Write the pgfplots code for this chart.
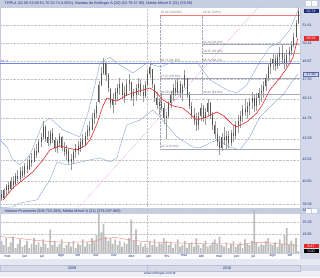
\documentclass[border=0pt]{standalone}
\usepackage{pgfplots}
\pgfplotsset{compat=1.18}
\usepackage{pgfplotstable}
\usetikzlibrary{backgrounds}
\usepackage{fontspec}
\setmainfont{Liberation Sans}
\definecolor{navy}{HTML}{1F2F7A}
\definecolor{titlebg}{HTML}{C6CEE2}
\definecolor{stripbg}{HTML}{D3D9EA}
\definecolor{monthbg}{HTML}{E6E9F2}
\definecolor{yearbg}{HTML}{D6DBE9}
\definecolor{footbg}{HTML}{EEF0F6}
\definecolor{wick}{HTML}{9A9A9A}
\definecolor{body}{HTML}{555555}
\definecolor{ema}{HTML}{E42A2A}
\definecolor{band}{HTML}{8EA2D2}
\definecolor{fib}{HTML}{A4A8B8}
\definecolor{fibred}{HTML}{F07878}
\definecolor{trend}{HTML}{E27FE2}
\definecolor{vol}{HTML}{BDBDBD}
\definecolor{volma}{HTML}{F08C8C}

% each bar: row 1 = (low, open), row 2 = (high, close), row 3 = break
\pgfplotstableread{
d w b
-6 39.45 39.90
-6 40.10 39.60
-6 nan nan
-2 39.60 39.65
-2 40.25 40.10
-2 nan nan
2 39.80 40.10
2 40.50 40.35
2 nan nan
6 39.95 40.40
6 40.60 40.10
6 nan nan
10 40.15 40.20
10 40.90 40.70
10 nan nan
14 40.20 40.70
14 41.00 40.40
14 nan nan
18 40.40 40.50
18 41.20 41.00
18 nan nan
22 40.55 41.00
22 41.35 40.80
22 nan nan
26 40.70 40.80
26 41.55 41.30
26 nan nan
30 40.85 41.30
30 41.65 41.00
30 nan nan
34 40.95 41.10
34 41.80 41.60
34 nan nan
38 41.15 41.60
38 42.05 41.40
38 nan nan
42 41.35 41.40
42 42.25 42.00
42 nan nan
46 41.55 42.00
46 42.45 41.80
46 nan nan
50 41.90 41.90
50 42.80 42.60
50 nan nan
54 42.15 42.60
54 43.05 42.30
54 nan nan
58 42.45 42.50
58 43.40 43.20
58 nan nan
62 42.85 43.20
62 43.80 43.50
62 nan nan
66 43.40 43.50
66 44.60 44.20
66 nan nan
70 43.20 44.20
70 44.30 43.40
70 nan nan
74 42.90 43.50
74 43.90 43.10
74 nan nan
78 43.00 43.10
78 44.00 43.80
78 nan nan
82 43.10 43.80
82 44.10 43.30
82 nan nan
86 42.55 43.30
86 43.50 42.80
86 nan nan
90 42.45 42.80
90 43.40 43.20
90 nan nan
94 42.85 43.10
94 43.80 43.60
94 nan nan
98 42.60 43.50
98 43.55 42.80
98 nan nan
102 42.25 42.80
102 43.15 42.50
102 nan nan
106 42.00 42.40
106 42.95 42.70
106 nan nan
110 41.75 42.60
110 42.70 41.90
110 nan nan
114 41.35 41.90
114 42.40 42.10
114 nan nan
118 41.75 42.00
118 42.70 42.50
118 nan nan
122 42.15 42.50
122 43.05 42.80
122 nan nan
126 42.35 42.90
126 43.25 42.60
126 nan nan
130 42.55 42.70
130 43.45 43.20
130 nan nan
134 42.75 43.30
134 43.70 43.00
134 nan nan
138 42.90 43.00
138 43.85 43.60
138 nan nan
142 43.30 43.60
142 44.30 44.00
142 nan nan
146 43.60 44.20
146 44.60 43.90
146 nan nan
150 44.10 44.00
150 45.10 44.80
150 nan nan
154 44.40 44.80
154 45.40 45.10
154 nan nan
158 44.80 45.10
158 45.90 45.60
158 nan nan
162 45.80 45.90
162 47.40 47.10
162 nan nan
166 47.00 47.10
166 48.40 48.00
166 nan nan
170 47.80 48.00
170 49.10 48.70
170 nan nan
174 47.40 48.70
174 48.80 47.80
174 nan nan
178 46.60 47.80
178 48.00 46.90
178 nan nan
182 45.50 46.80
182 46.90 45.80
182 nan nan
186 45.10 45.70
186 46.50 46.10
186 nan nan
190 45.70 46.10
190 46.90 46.60
190 nan nan
194 46.00 46.50
194 47.20 46.90
194 nan nan
198 46.40 46.90
198 47.60 47.20
198 nan nan
202 46.10 47.20
202 47.30 46.40
202 nan nan
206 45.80 46.50
206 47.00 46.20
206 nan nan
210 46.30 46.30
210 47.50 47.20
210 nan nan
214 46.70 47.20
214 47.90 47.50
214 nan nan
218 46.00 47.30
218 47.20 46.20
218 nan nan
222 45.60 46.30
222 46.80 46.50
222 nan nan
226 46.00 46.40
226 47.20 46.90
226 nan nan
230 46.40 46.90
230 47.60 47.20
230 nan nan
234 46.30 47.20
234 47.50 46.60
234 nan nan
238 45.90 46.60
238 47.10 46.30
238 nan nan
242 46.20 46.30
242 47.40 47.10
242 nan nan
246 47.00 47.10
246 48.20 47.90
246 nan nan
250 47.60 47.90
250 48.80 48.40
250 nan nan
254 46.90 48.30
254 48.20 47.20
254 nan nan
258 45.90 47.10
258 47.20 46.20
258 nan nan
262 45.40 46.20
262 46.60 45.70
262 nan nan
266 45.00 45.60
266 46.20 45.90
266 nan nan
270 45.30 45.90
270 46.50 45.50
270 nan nan
274 44.40 45.50
274 45.80 44.80
274 nan nan
278 43.40 44.80
278 45.20 44.90
278 nan nan
282 44.80 44.90
282 46.00 45.80
282 nan nan
286 45.50 45.80
286 46.70 46.40
286 nan nan
290 46.00 46.40
290 47.20 46.90
290 nan nan
294 46.30 46.90
294 47.50 46.60
294 nan nan
298 46.40 46.60
298 47.60 47.30
298 nan nan
302 46.20 47.20
302 47.40 46.50
302 nan nan
306 46.00 46.50
306 47.20 47.00
306 nan nan
310 46.90 47.00
310 48.20 47.80
310 nan nan
314 46.20 47.60
314 47.40 46.40
314 nan nan
318 45.40 46.40
318 46.60 45.60
318 nan nan
322 44.70 45.60
322 45.90 45.00
322 nan nan
326 44.30 45.00
326 45.50 44.60
326 nan nan
330 43.90 44.60
330 45.10 44.30
330 nan nan
334 44.00 44.30
334 45.20 44.90
334 nan nan
338 44.60 44.90
338 45.80 45.50
338 nan nan
342 44.50 45.50
342 45.70 44.80
342 nan nan
346 44.30 44.80
346 45.50 45.20
346 nan nan
350 44.90 45.20
350 46.10 45.80
350 nan nan
354 44.70 45.80
354 45.90 45.00
354 nan nan
358 44.00 45.00
358 45.20 44.30
358 nan nan
362 43.40 44.30
362 44.60 43.70
362 nan nan
366 42.90 43.70
366 44.10 43.20
366 nan nan
370 42.30 43.20
370 43.60 42.80
370 nan nan
374 42.60 42.80
374 43.80 43.50
374 nan nan
378 43.00 43.50
378 44.20 43.30
378 nan nan
382 42.70 43.30
382 43.90 43.60
382 nan nan
386 42.80 43.60
386 43.90 43.10
386 nan nan
390 42.90 43.10
390 44.00 43.80
390 nan nan
394 43.20 43.80
394 44.30 43.60
394 nan nan
398 43.40 43.60
398 44.60 44.30
398 nan nan
402 43.80 44.30
402 45.00 44.60
402 nan nan
406 44.10 44.60
406 45.30 44.90
406 nan nan
410 44.50 44.90
410 45.70 45.40
410 nan nan
414 44.90 45.40
414 46.10 45.20
414 nan nan
418 44.70 45.20
418 45.90 45.60
418 nan nan
422 45.00 45.60
422 46.20 45.90
422 nan nan
426 45.40 45.90
426 46.60 46.20
426 nan nan
430 45.20 46.20
430 46.40 45.60
430 nan nan
434 45.30 45.60
434 46.50 46.20
434 nan nan
438 45.70 46.20
438 46.90 46.50
438 nan nan
442 45.90 46.50
442 47.10 46.70
442 nan nan
446 46.20 46.70
446 47.40 47.00
446 nan nan
450 46.70 47.00
450 47.90 47.60
450 nan nan
454 47.40 47.60
454 48.70 48.40
454 nan nan
458 47.90 48.40
458 49.10 48.70
458 nan nan
462 48.20 48.70
462 49.40 49.00
462 nan nan
466 48.10 49.00
466 49.30 48.50
466 nan nan
470 48.30 48.50
470 49.50 49.20
470 nan nan
474 48.50 49.20
474 49.90 49.50
474 nan nan
478 48.70 49.50
478 50.10 49.00
478 nan nan
482 48.30 49.00
482 49.50 48.70
482 nan nan
486 48.40 48.70
486 49.70 49.30
486 nan nan
490 48.80 49.30
490 49.90 49.60
490 nan nan
494 49.30 49.60
494 50.40 50.10
494 nan nan
498 49.90 50.10
498 51.00 50.70
498 nan nan
502 50.60 50.70
502 52.00 51.80
502 nan nan
506 51.70 51.80
506 53.00 52.74
506 nan nan
}\bars

\pgfplotstableread{
d v
-6 12
-2 9
2 14
6 8
10 11
14 15
18 7
22 10
26 13
30 8
34 9
38 12
42 7
46 10
50 14
54 9
58 11
62 8
66 13
70 10
74 7
78 20
82 9
86 12
90 8
94 10
98 13
102 7
106 9
110 11
114 8
118 12
122 7
126 10
130 9
134 13
138 8
142 11
146 10
150 14
154 12
158 16
162 32
166 18
170 24
174 15
178 12
182 14
186 10
190 13
194 9
198 12
202 8
206 11
210 10
214 14
218 27
222 12
226 20
230 9
234 11
238 8
242 10
246 7
250 12
254 9
258 13
262 8
266 11
270 10
274 14
278 12
282 9
286 11
290 7
294 10
298 13
302 8
306 9
310 12
314 7
318 10
322 11
326 8
330 14
334 9
338 7
342 10
346 12
350 8
354 9
358 11
362 13
366 10
370 15
374 9
378 8
382 11
386 7
390 10
394 12
398 8
402 9
406 11
410 7
414 13
418 10
422 9
426 12
430 34
434 11
438 8
442 10
446 9
450 12
454 14
458 10
462 9
466 11
470 8
474 13
478 10
482 16
486 21
490 9
494 12
498 10
502 14
506 5
}\vols

\pgfplotsset{
  fiblab/.style={draw=none, mark=none, forget plot, nodes near coords, point meta=explicit symbolic,
    every node near coord/.append style={anchor=south west, inner sep=0.3pt, text=black!55, font=\fontsize{3.1}{3.4}\selectfont}},
}
\tikzset{tag/.style={anchor=west, inner sep=0.4pt, minimum width=15pt, minimum height=4.2pt, font=\fontsize{3.6}{4}\selectfont}}

\begin{document}
\begin{tikzpicture}[font=\fontsize{3.8}{4.2}\selectfont]

\begin{axis}[
  name=main,
  at={(0pt,0pt)}, anchor=south west, scale only axis,
  width=300pt, height=201pt,
  xmin=-8.6, xmax=509,
  ymode=log, ymin=39.04, ymax=53.07,
  unbounded coords=jump,
  clip mode=individual,
  axis line style={draw=navy!25, line width=0.3pt},
  xtick={245}, xticklabels={},
  ytick={39.28,40.65,42.02,43.39,44.76,46.13,47.50,48.87,50.24,51.61},
  yticklabels={39.28,40.65,42.02,43.39,44.76,46.13,47.50,48.87,50.24,51.61},
  yticklabel pos=right,
  yticklabel style={font=\fontsize{3.6}{4}\selectfont, text=navy, anchor=west, inner sep=0pt, xshift=2.5pt},
  major tick length=0pt, minor tick length=0pt,
  xmajorgrids, ymajorgrids,
  grid style={densely dotted, draw=black!22, line width=0.35pt},
  /pgf/number format/assume math mode=true,
]
% fibonacci lines
\addplot[fibred, line width=0.6pt] coordinates {(267,52.42) (509,52.42)};
\addplot[fib, line width=0.4pt] coordinates {(340,50.13) (509,50.13)};
\addplot[fib, line width=0.4pt] coordinates {(340,49.45) (509,49.45)};
\addplot[band!80!blue, line width=0.45pt] coordinates {(-8.6,48.71) (509,48.71)};
\addplot[fib, line width=0.4pt] coordinates {(267,47.57) (509,47.57)};
\addplot[fib, line width=0.4pt] coordinates {(267,46.43) (509,46.43)};
\addplot[fib, line width=0.4pt] coordinates {(267,42.72) (509,42.72)};
\addplot[fib, densely dotted, line width=0.4pt] coordinates {(267,42.72) (267,52.42)};
\addplot[fib, densely dotted, line width=0.4pt] coordinates {(340,46.43) (340,52.42)};
% trend line
\addplot[trend, densely dotted, line width=0.5pt] coordinates {(125.9,39.04) (437.9,53.07)};
% bollinger bands
\addplot[band, line width=0.4pt] coordinates {
(-8.6,43.31) (3.4,42.85) (13.8,42.01) (25.9,41.69) (43.1,42.34) (65.5,44.45) (77.6,44.79)
(100,43.98) (129.3,43.51) (143.1,45.13) (155.2,47.11) (163.8,48.72) (181,49.16) (193.1,48.72)
(220.7,47.98) (244.8,48.72) (267.2,48.42) (289.7,48.79) (313.8,48.79) (331,48.79) (353.4,47.47)
(382.8,46.75) (400,46.54) (417.2,47.11) (439.7,48.79) (456.9,49.92) (474.1,50.30) (491.4,51.23) (505.2,52.79)};
\addplot[band, line width=0.4pt] coordinates {
(-8.6,39.05) (13.8,39.10) (25.9,39.34) (55.2,39.52) (77.6,40.75) (89.7,41.88) (106.9,41.69)
(124.1,41.82) (146.6,42.01) (163.8,42.14) (181,41.88) (193.1,42.14) (201.7,43.31) (210.3,44.32)
(232.8,44.65) (255.2,45.34) (267.2,44.86) (296.6,43.51) (324.1,42.85) (336.2,42.79) (353.4,43.11)
(365.5,43.31) (387.9,42.85) (405.2,42.66) (422.4,43.51) (439.7,44.86) (456.9,45.55) (479.3,46.39)
(491.4,47.11) (505.2,47.90)};
% price bars: high-low wicks and open-close bodies
\addplot[wick, line width=0.5pt, mark=none] table[x=d, y=w] {\bars};
\addplot[body, line width=0.8pt, mark=none] table[x=d, y=b] {\bars};
% EMA 21
\addplot[ema, line width=0.6pt] coordinates {
(-3.4,39.52) (13.8,40.25) (31,40.75) (48.3,41.25) (65.5,42.01) (77.6,42.66) (94.8,42.92)
(106.9,42.79) (124.1,42.66) (137.9,42.92) (146.6,43.31) (158.6,44.38) (169,45.62) (175.9,46.18)
(184.5,46.04) (193.1,45.97) (210.3,46.39) (220.7,46.54) (237.9,46.75) (250,46.89) (260.3,46.61)
(272.4,46.04) (289.7,45.62) (306.9,45.48) (319,45.07) (331,44.65) (348.3,44.86) (365.5,45.20)
(377.6,44.93) (391.4,44.38) (400,44.18) (417.2,44.52) (434.5,45.13) (444.8,45.76) (456.9,46.75)
(474.1,47.61) (486.2,48.34) (496.6,49.09) (505.2,50.58)};
% fib labels
\addplot[fiblab] coordinates {
(268,52.42) [52.42 (100.0\%)]
(341,52.42) [52.42 (0.0\%)]
(341,50.13) [50.13 (23.6\%)]
(341,49.45) [49.45 (30.0\%)]
(268,48.71) [48.71 (61.8\%)]
(341,48.71) [48.71 (38.2\%)]
(268,47.57) [47.57 (50.0\%)]
(268,46.43) [46.43 (38.2\%)]
(341,46.43) [46.43 (61.8\%)]
(268,42.72) [42.72 (0.0\%)]
};
\addplot[fiblab, every node near coord/.append style={text=band!60!blue}] coordinates {(-8,48.71) [48.71]};
% right price tags
\node[tag, fill=navy, text=white] at (axis cs:515,52.74) {52.74};
\node[tag, fill=ema, text=white] at (axis cs:515,50.58) {50.58};
\node[tag, fill=band!45, draw=navy!70, line width=0.3pt, text=navy] at (axis cs:515,47.90) {47.90};
\end{axis}

\begin{axis}[
  name=vol,
  at={([yshift=-6pt]main.south west)}, anchor=north west, scale only axis,
  width=300pt, height=45pt,
  xmin=-8.6, xmax=509,
  ymin=3.5, ymax=35.1,
  clip mode=individual,
  axis line style={draw=navy!25, line width=0.3pt},
  xtick={0,31,61,92,122,153,183,214,245,276,304,335,365,396,426,457,488},
  xticklabels={mai,jun,jul,ago,set,out,nov,dez,jan,fev,mar,abr,mai,jun,jul,ago,set},
  xticklabel pos=left,
  xticklabel style={font=\fontsize{3.6}{4}\selectfont, text=navy, anchor=north west, inner sep=0pt, yshift=-1.2pt, xshift=-0.5pt},
  extra x ticks={245}, extra x tick labels={},
  extra x tick style={grid=major},
  ytick={16.85,25.28,33.71},
  yticklabels={16.85,25.28,33.71},
  yticklabel pos=right,
  yticklabel style={font=\fontsize{3.6}{4}\selectfont, text=navy, anchor=west, inner sep=0pt, xshift=2.5pt},
  major tick length=0pt,
  ymajorgrids,
  grid style={densely dotted, draw=black!22, line width=0.35pt},
  /pgf/number format/assume math mode=true,
]
\addplot[ybar, bar width=1.7pt, fill=vol, draw=none] table[x=d, y=v] {\vols};
\addplot[volma, line width=0.45pt] coordinates {
(-8,15) (20,14) (50,12.5) (80,11.5) (110,11) (150,11.5) (170,13.5) (190,14.5) (210,13)
(240,11.5) (270,11) (300,10.5) (340,10) (380,10) (410,9.5) (430,11) (450,11) (470,10) (490,9.5) (506,8.5)};
\node[tag, fill=ema, text=white] at (axis cs:515,8.5) {8.47};
\node[tag, fill=black, text=white] at (axis cs:515,4.9) {5.00};
\end{axis}

% frame, bars and texts around the two panels (origin = lower left of the price panel)
\begin{scope}[on background layer, shift={(main.south west)}]
\fill[stripbg] (0pt,-69pt) rectangle (320pt,208pt);
\fill[white] (0pt,0pt) rectangle (300pt,201pt);
\fill[titlebg] (0pt,201pt) rectangle (320pt,208pt);
\fill[titlebg] (0pt,-6pt) rectangle (320pt,0pt);
\fill[white] (0pt,-51pt) rectangle (300pt,-6pt);
\fill[monthbg] (0pt,-57pt) rectangle (320pt,-51pt);
\fill[yearbg] (0pt,-63pt) rectangle (300pt,-57pt);
\fill[footbg] (0pt,-69pt) rectangle (320pt,-63pt);
\end{scope}
\begin{scope}[shift={(main.south west)}]
\draw[navy!30, line width=0.3pt] (0.3pt,-62.7pt) rectangle (299.7pt,-57.3pt);
\draw[navy!30, line width=0.3pt] (147pt,-62.7pt) -- (147pt,-57.3pt);
\fill[navy!25] (1pt,202.5pt) rectangle (3.5pt,206.5pt);
\fill[navy!25] (1pt,-4.5pt) rectangle (3.5pt,-1.5pt);
\fill[white] (306pt,202.2pt) rectangle (311pt,206.8pt);
\fill[white] (312pt,202.2pt) rectangle (317pt,206.8pt);
\fill[white] (306pt,-4.8pt) rectangle (311pt,-1.2pt);
\fill[white] (312pt,-4.8pt) rectangle (317pt,-1.2pt);
\node[anchor=west, inner sep=0pt, text=navy] at (4.5pt,204.5pt) {TRPL4 (52.00 52.88 51.70 52.74 0.00\%), Bandas de Bollinger A (20) (52.79 47.90), Média Móvel E (21) (50.58)};
\node[anchor=west, inner sep=0pt, text=navy] at (4.5pt,-3pt) {Volume Financeiro (508.723.388), Média Móvel A (21) (373.037.660)};
\node[text=navy] at (72pt,-60pt) {2009};
\node[text=navy] at (227pt,-60pt) {2010};
\node[text=navy, font=\fontsize{3.4}{3.8}\selectfont] at (160pt,-66pt) {www.enfoque.com.br};
\end{scope}
\pgfresetboundingbox
\path[use as bounding box] ([shift={(0pt,-69pt)}]main.south west) rectangle ([shift={(320pt,208pt)}]main.south west);
\end{tikzpicture}
\end{document}
